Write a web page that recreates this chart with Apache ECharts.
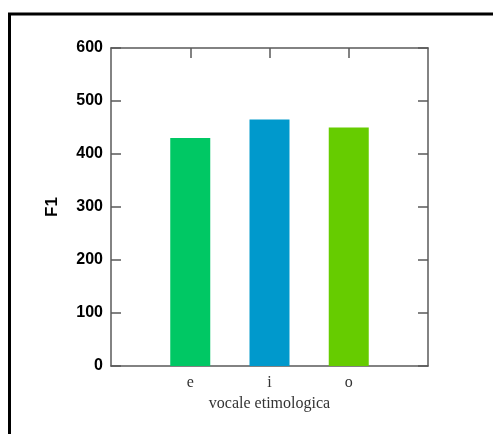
<!DOCTYPE html>
<html>
<head>
<meta charset="utf-8">
<script src="https://cdn.jsdelivr.net/npm/echarts@6/dist/echarts.min.js"></script>
<style>
html,body{margin:0;padding:0;background:#fff;}
#chart{width:493px;height:434px;}
</style>
</head>
<body>
<div id="chart"></div>
<script>
var categories = ['e', 'i', 'o'];
var values = [430, 465, 450];
var barColors = ['#00c864', '#0099cc', '#66cc00'];
var yTicks = [0, 100, 200, 300, 400, 500, 600];

// pad categories by half a band on each side
var axisCats = [''].concat(categories).concat(['']);
var barData = [null].concat(values.map(function (v, i) {
  return { value: v, itemStyle: { color: barColors[i] } };
})).concat([null]);

var chart = echarts.init(document.getElementById('chart'), null, { renderer: 'canvas' });
var axisColor = '#5a5a5a';
chart.setOption({
  backgroundColor: '#fff',
  animation: false,
  grid: { left: 111, right: 65, top: 48, bottom: 68 },
  xAxis: [{
    type: 'category', data: axisCats, boundaryGap: false, position: 'bottom',
    axisLine: { show: true, onZero: false, lineStyle: { color: axisColor, width: 1.5 } },
    axisTick: { show: false },
    axisLabel: { fontFamily: 'Liberation Serif', fontSize: 16, color: '#333', margin: 9 },
    splitLine: { show: false },
    name: 'vocale etimologica', nameLocation: 'middle', nameGap: 28,
    nameTextStyle: { fontFamily: 'Liberation Serif', fontSize: 16, color: '#333' }
  }, {
    type: 'category', data: axisCats, boundaryGap: false, position: 'top',
    axisLine: { show: true, onZero: false, lineStyle: { color: axisColor, width: 1.5 } },
    axisTick: { show: true, inside: true, length: 10, lineStyle: { color: axisColor, width: 1.5 },
      interval: function (idx, val) { return val !== ''; } },
    axisLabel: { show: false }, splitLine: { show: false }
  }],
  yAxis: [{
    type: 'value', min: yTicks[0], max: yTicks[yTicks.length - 1], interval: 100, position: 'left',
    axisLine: { show: true, onZero: false, lineStyle: { color: axisColor, width: 1.5 } },
    axisTick: { show: true, inside: true, length: 10, lineStyle: { color: axisColor, width: 1.5 } },
    axisLabel: { fontFamily: 'Liberation Sans', fontWeight: 'bold', fontSize: 16, color: '#000', margin: 8 },
    splitLine: { show: false },
    name: 'F1', nameLocation: 'middle', nameRotate: 90, nameGap: 50,
    nameTextStyle: { fontFamily: 'Liberation Sans', fontWeight: 'bold', fontSize: 17, color: '#000' }
  }, {
    type: 'value', min: yTicks[0], max: yTicks[yTicks.length - 1], interval: 100, position: 'right',
    axisLine: { show: true, onZero: false, lineStyle: { color: axisColor, width: 1.5 } },
    axisTick: { show: true, inside: true, length: 10, lineStyle: { color: axisColor, width: 1.5 } },
    axisLabel: { show: false }, splitLine: { show: false }
  }],
  series: [{ type: 'bar', xAxisIndex: 0, yAxisIndex: 0, data: barData, barWidth: 40 }],
  graphic: [{ type: 'rect', shape: { x: 9.5, y: 14, width: 600, height: 600 },
    style: { fill: null, stroke: '#000', lineWidth: 3 }, silent: true }]
});
</script>
</body>
</html>
